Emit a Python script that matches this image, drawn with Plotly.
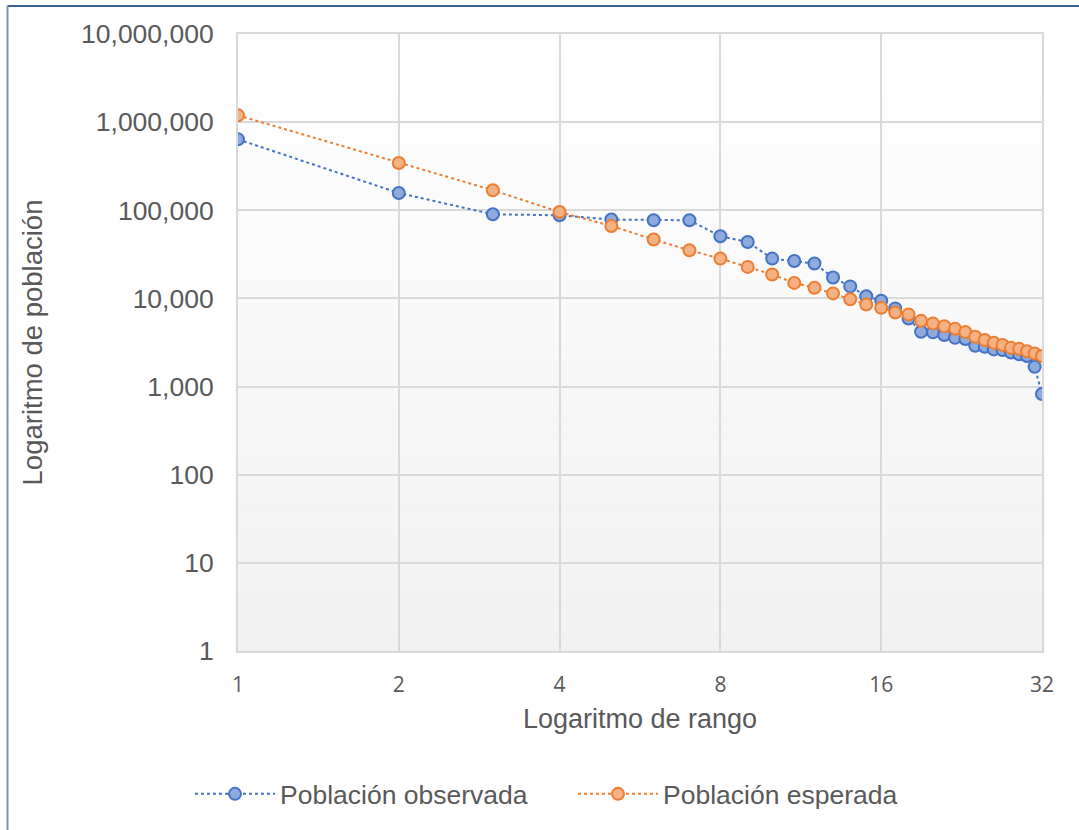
import plotly.graph_objects as go

rank = list(range(1, 33))
observada = [638000, 157000, 90000, 87700, 78500, 77000, 77000, 50700, 43700, 28300,
             26600, 24900, 17300, 13700, 10600, 9400, 7710, 5930, 4180, 4120,
             3840, 3570, 3460, 2900, 2830, 2640, 2600, 2440, 2330, 2220,
             1680, 822]
esperada = [1194000, 344000, 169000, 95600, 66400, 46600, 35200, 28300, 22800, 18700,
            15000, 13200, 11400, 9800, 8550, 7820, 6930, 6590, 5570, 5210,
            4850, 4520, 4150, 3670, 3370, 3140, 2960, 2750, 2680, 2520,
            2380, 2220]
x_ticks = [1, 2, 4, 8, 16, 32]
y_ticks = [1, 10, 100, 1000, 10000, 100000, 1000000, 10000000]
y_ticktext = ["1", "10", "100", "1,000", "10,000", "100,000", "1,000,000", "10,000,000"]

W, H = 1079, 830
L, R, T, B = 238, 37, 33.5, 179
pw, ph = W - L - R, H - T - B

fig = go.Figure()
fig.add_trace(go.Scatter(
    x=rank, y=observada, name="Población observada", mode="lines+markers",
    line=dict(color="#4472c4", width=2, dash="dot"),
    marker=dict(size=12, color="#8faadc", line=dict(color="#4472c4", width=2)),
))
fig.add_trace(go.Scatter(
    x=rank, y=esperada, name="Población esperada", mode="lines+markers",
    line=dict(color="#ed7d31", width=2, dash="dot"),
    marker=dict(size=12, color="#f4b183", line=dict(color="#ed7d31", width=2)),
))

# plot-area vertical gradient (white -> light gray)
n = 60
shapes = []
for i in range(n):
    t = (i + 0.5) / n
    g = round(255 - (255 - 241) * t)
    shapes.append(dict(type="rect", xref="paper", yref="paper",
                       x0=0, x1=1, y1=1 - i / n, y0=1 - (i + 1) / n,
                       fillcolor=f"rgb({g},{g},{g})", line=dict(width=0), layer="below"))
# outer chart border (top and left visible)
xl = (7.5 - L) / pw
yt = 1 + (T - 5.5) / ph
shapes.append(dict(type="line", xref="paper", yref="paper", x0=xl, x1=(W - L) / pw + 0.01,
                   y0=yt, y1=yt, line=dict(color="#3c5f9c", width=2)))
shapes.append(dict(type="line", xref="paper", yref="paper", x0=xl, x1=xl,
                   y0=yt, y1=-(B + 5) / ph, line=dict(color="#7d90b4", width=2)))

font_main = "Liberation Sans, Arial, sans-serif"
fig.update_layout(
    width=W, height=H,
    margin=dict(l=L, r=R, t=T, b=B, autoexpand=False),
    paper_bgcolor="white", plot_bgcolor="rgba(0,0,0,0)",
    font=dict(family=font_main, color="#595959", size=26),
    shapes=shapes,
    showlegend=True,
    legend=dict(orientation="h", x=(190 - L) / pw, xanchor="left", y=-0.232, yanchor="middle",
                font=dict(size=26.5, color="#595959"), itemwidth=80,
                entrywidth=288, entrywidthmode="pixels",
                bgcolor="rgba(0,0,0,0)"),
    xaxis=dict(type="log", range=[0, 1.50515], tickvals=x_ticks,
               ticktext=[str(v) for v in x_ticks],
               tickfont=dict(family="Open Sans, sans-serif", size=21, color="#595959"),
               ticklabelstandoff=14,
               showgrid=True, gridcolor="#d9d9d9", gridwidth=1.5,
               showline=True, linecolor="#d9d9d9", linewidth=2, mirror=True,
               zeroline=False, ticks="",
               title=dict(text="Logaritmo de rango", font=dict(size=27, color="#595959"),
                          standoff=12)),
    yaxis=dict(type="log", range=[0, 7], tickvals=y_ticks, ticktext=y_ticktext,
               tickfont=dict(size=26.5, color="#595959"),
               ticklabelstandoff=17,
               showgrid=True, gridcolor="#d9d9d9", gridwidth=1.5,
               showline=True, linecolor="#d9d9d9", linewidth=2, mirror=True,
               zeroline=False, ticks="",
               title=dict(text="Logaritmo de población", font=dict(size=27.5, color="#595959"),
                          standoff=30)),
)

fig.write_html("out.html")
